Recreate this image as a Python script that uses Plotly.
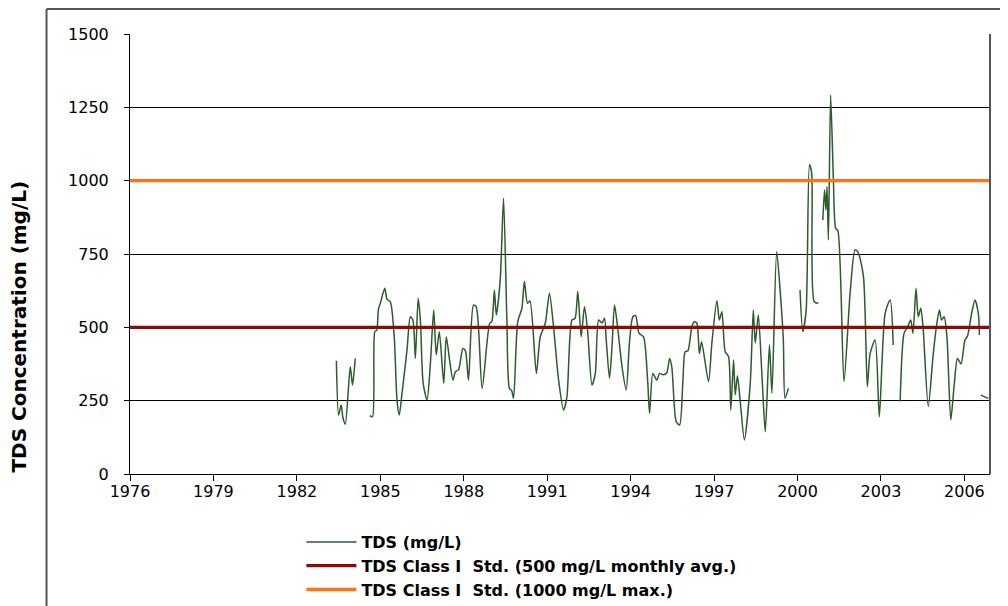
import plotly.graph_objects as go

# ---- data ----
years = [
    1983.42, 1983.50, 1983.59, 1983.66, 1983.74, 1983.92, 1984.00, 1984.10,
    1984.30,
    1984.62, 1984.72, 1984.80, 1984.87, 1984.93, 1985.00, 1985.16, 1985.24, 1985.36, 1985.50,
    1985.60, 1985.68, 1985.78, 1985.96, 1986.08, 1986.17, 1986.26, 1986.36, 1986.44, 1986.54,
    1986.68, 1986.80, 1986.92, 1987.01, 1987.12, 1987.28, 1987.37, 1987.49, 1987.61, 1987.70,
    1987.81, 1987.97, 1988.06, 1988.17, 1988.35, 1988.45, 1988.66, 1988.93, 1989.01, 1989.10,
    1989.17, 1989.31, 1989.43, 1989.55, 1989.64, 1989.72, 1989.79, 1989.94, 1990.09, 1990.18,
    1990.29, 1990.38, 1990.61, 1990.75, 1990.93, 1991.08, 1991.23, 1991.41, 1991.59, 1991.71,
    1991.89, 1992.00, 1992.10, 1992.22, 1992.34, 1992.45, 1992.61, 1992.73, 1992.85, 1992.97,
    1993.06, 1993.12, 1993.24, 1993.33, 1993.42, 1993.53, 1993.69, 1993.84, 1993.96, 1994.08,
    1994.18, 1994.30, 1994.46, 1994.61, 1994.68, 1994.80, 1994.94, 1995.04, 1995.18, 1995.30,
    1995.40, 1995.48, 1995.64, 1995.76, 1995.88, 1995.96, 1996.06, 1996.20, 1996.29, 1996.38,
    1996.47, 1996.55, 1996.80, 1996.92, 1997.10, 1997.19, 1997.28, 1997.40, 1997.52, 1997.60,
    1997.70, 1997.76, 1997.84, 1997.94, 1998.09, 1998.30, 1998.41, 1998.48, 1998.59, 1998.72,
    1998.84, 1998.99, 1999.08, 1999.25, 1999.40, 1999.49, 1999.55, 1999.67,
    1999.85,
    2000.09, 2000.19, 2000.31, 2000.43, 2000.51, 2000.60, 2000.75,
    2000.83,
    2000.91, 2000.97, 2001.02, 2001.06, 2001.11, 2001.19, 2001.29, 2001.37, 2001.45, 2001.67,
    2001.89, 2002.07, 2002.18, 2002.37, 2002.51, 2002.61, 2002.79, 2002.94, 2003.15, 2003.33,
    2003.44,
    2003.55,
    2003.69, 2003.83, 2003.95, 2004.07, 2004.15, 2004.26, 2004.34, 2004.43, 2004.51, 2004.70,
    2004.88, 2004.99, 2005.10, 2005.18, 2005.27, 2005.37, 2005.51, 2005.63, 2005.75, 2005.88,
    2006.02, 2006.11, 2006.26, 2006.38, 2006.50, 2006.54,
    2006.56,
    2006.59, 2006.86,
]

tds_mg_l = [
    386, 201, 235, 190, 170, 366, 303, 394,
    None,
    199, 195, 485, 490, 560, 582, 633, 596, 587, 468,
    252, 201, 275, 423, 536, 525, 394, 599, 525, 309,
    252, 377, 559, 406, 485, 309, 468, 389, 320, 349,
    355, 428, 420, 320, 576, 570, 292, 513, 520, 627,
    542, 661, 940, 525, 292, 285, 258, 519, 565, 656,
    582, 590, 343, 468, 514, 616, 500, 320, 218, 264,
    525, 530, 622, 468, 570, 491, 303, 343, 525, 515,
    531, 460, 326, 434, 576, 502, 366, 286, 451, 536,
    540, 480, 468, 320, 207, 343, 320, 343, 338, 345,
    394, 365, 178, 167, 320, 417, 420, 502, 519, 514,
    411, 451, 315, 446, 591, 525, 553, 417, 400, 218,
    389, 270, 335, 247, 116, 309, 559, 446, 542, 338,
    144, 440, 275, 758, 593, 457, 258, 292,
    None,
    627, 485, 559, 1054, 1025, 587, 582,
    None,
    866, 968, 900, 980, 798, 1292, 1002, 838, 830, 315,
    616, 764, 755, 673, 298, 411, 457, 195, 548, 593,
    440,
    None,
    247, 480, 500, 525, 480, 633, 536, 565, 505, 230,
    410, 500, 559, 525, 536, 470, 184, 300, 394, 375,
    457, 470, 548, 593, 548, 474,
    None,
    269, 258,
]

std_monthly_avg = 500
std_max = 1000
x_span = [1976, 2006.92]
x_tick_years = [1976, 1979, 1982, 1985, 1988, 1991, 1994, 1997, 2000, 2003, 2006]
y_ticks = [0, 250, 500, 750, 1000, 1250, 1500]

names = [
    "TDS (mg/L)",
    "TDS Class I  Std. (500 mg/L monthly avg.)",
    "TDS Class I  Std. (1000 mg/L max.)",
]

# ---- figure ----
fig = go.Figure()
fig.add_trace(go.Scatter(
    x=years, y=tds_mg_l, mode="lines", name=names[0],
    line=dict(color="#2b5c2b", width=1.5, shape="spline", smoothing=0.7),
    connectgaps=False,
))
fig.add_trace(go.Scatter(
    x=x_span, y=[std_monthly_avg] * len(x_span), mode="lines", name=names[1],
    line=dict(color="#8b0a0a", width=3.2),
))
fig.add_trace(go.Scatter(
    x=x_span, y=[std_max] * len(x_span), mode="lines", name=names[2],
    line=dict(color="#ff7410", width=3.4),
))

# the page places the figure 8 px from the window's top-left corner
OFF = 8
W, H = 1008 - OFF, 606 - OFF
# plot area in window pixels
L, R, T, B = 129.5 - OFF, 990.0 - OFF, 34.0 - OFF, 474.0 - OFF


def px(xp):
    """window x pixel -> paper x"""
    return (xp - OFF - L) / (R - L)


def py(yp):
    """window y pixel -> paper y"""
    return (B - (yp - OFF)) / (B - T)


fig.update_layout(
    width=W, height=H,
    margin=dict(l=L, r=W - R, t=T, b=H - B, autoexpand=False),
    paper_bgcolor="white", plot_bgcolor="white",
    font=dict(family="DejaVu Sans", color="black"),
    showlegend=True,
    legend=dict(
        x=px(301), y=py(525), xanchor="left", yanchor="top",
        font=dict(family="DejaVu Sans", size=16, color="black", weight="bold"),
        bgcolor="rgba(0,0,0,0)", borderwidth=0, itemwidth=50,
        tracegroupgap=0, traceorder="normal",
    ),
    xaxis=dict(
        range=x_span, tickmode="array", tickvals=x_tick_years,
        ticktext=[str(v) for v in x_tick_years],
        showgrid=False, zeroline=False,
        showline=True, linecolor="black", linewidth=1, mirror=False,
        ticks="outside", ticklen=6, tickcolor="black", tickwidth=1,
        ticklabelstandoff=-3,
        tickfont=dict(family="DejaVu Sans", size=16, color="black"),
    ),
    yaxis=dict(
        range=[0, 1500], tickmode="array", tickvals=y_ticks,
        showgrid=True, gridcolor="black", gridwidth=1, zeroline=False,
        showline=True, linecolor="black", linewidth=1, mirror=False,
        ticks="outside", ticklen=5, tickcolor="black", tickwidth=1,
        ticklabelstandoff=12,
        tickfont=dict(family="DejaVu Sans", size=16, color="black"),
    ),
    annotations=[dict(
        text="TDS Concentration (mg/L)", textangle=-90,
        xref="paper", yref="paper", x=px(18), y=py(327),
        xanchor="center", yanchor="middle", showarrow=False,
        font=dict(family="DejaVu Sans", size=20, color="black", weight="bold"),
    )],
    shapes=[
        # right border of plot area
        dict(type="line", xref="paper", yref="paper", x0=1, x1=1, y0=0, y1=1,
             line=dict(color="#555555", width=2)),
        # outer chart border (left and top)
        dict(type="line", xref="paper", yref="paper", x0=px(46), x1=px(46),
             y0=py(9), y1=py(620), line=dict(color="#555555", width=2)),
        dict(type="line", xref="paper", yref="paper", x0=px(46), x1=px(1020),
             y0=py(9), y1=py(9), line=dict(color="#555555", width=2)),
    ],
)

fig.write_html("out.html")
